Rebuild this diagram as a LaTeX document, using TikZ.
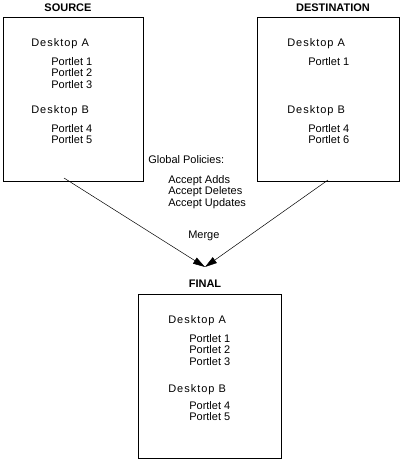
\documentclass[tikz,border=0pt]{standalone}
\usepackage{fontspec}
\setmainfont{Liberation Sans}
\newfontfamily\spacedfont[LetterSpace=9]{Liberation Sans}
\usetikzlibrary{arrows.meta}

\begin{document}
\begin{tikzpicture}
	[x=1pt, y=-1pt, line width=0.6pt,
	 box/.style = {draw, inner sep=0pt, outer sep=0pt, minimum height=164pt},
	 title/.style = {anchor=base, inner sep=0pt, font=\fontsize{11}{13}\selectfont\bfseries},
	 desk/.style = {anchor=base west, inner sep=0pt, font=\fontsize{11}{13}\selectfont\spacedfont},
	 txt/.style = {anchor=base west, inner sep=0pt, font=\fontsize{11}{13}\selectfont},
	 flow/.style = {-{Triangle[length=12pt, width=7pt]}, line width=0.5pt}]
	\useasboundingbox (0,0) rectangle (401,459);
	% source
	\node[title] (srct) at (68,11) {SOURCE};
	\node[box, minimum width=140pt] (src) at (73,99) {};
	\node[desk] (sda) at (31,46.5) {Desktop A};
	\foreach \p [count=\i] in {1,2,3}
		\node[txt] (sp\p) at (51,65+11.7*\i-11.7) {Portlet \p};
	\node[desk] (sdb) at (31,113) {Desktop B};
	\foreach \p [count=\i] in {4,5}
		\node[txt] (sp\p) at (51,132+11.7*\i-11.7) {Portlet \p};
	% destination
	\node[title] (dstt) at (333,11) {DESTINATION};
	\node[box, minimum width=142pt] (dst) at (328,99) {};
	\node[desk] (dda) at (287,46.5) {Desktop A};
	\node[txt] (dp1) at (308,65) {Portlet 1};
	\node[desk] (ddb) at (287,113) {Desktop B};
	\foreach \p [count=\i] in {4,6}
		\node[txt] (dp\p) at (308,132+11.7*\i-11.7) {Portlet \p};
	% policies
	\node[txt] (gp) at (148,163) {Global Policies:};
	\node[txt] (acc1) at (168,183) {Accept Adds};
	\node[txt] (acc2) at (168,194.7) {Accept Deletes};
	\node[txt] (acc3) at (168,206.4) {Accept Updates};
	\node[txt] (merge) at (188,238) {Merge};
	% final
	\node[title] (fint) at (205,287) {FINAL};
	\node[box, minimum width=143pt] (fin) at (209.5,376) {};
	\node[desk] (fda) at (168,323) {Desktop A};
	\foreach \p [count=\i] in {1,2,3}
		\node[txt] (fp\p) at (189,342+11.7*\i-11.7) {Portlet \p};
	\node[desk] (fdb) at (168,392) {Desktop B};
	\foreach \p [count=\i] in {4,5}
		\node[txt] (fp\p) at (189,409+11.7*\i-11.7) {Portlet \p};
	% merge arrows
	\coordinate (meet) at (205,267);
	\draw[flow] ([xshift=-9pt, yshift=3pt]src.south) -- (meet);
	\draw[flow] ([yshift=1pt]dst.south) -- (meet);
\end{tikzpicture}
\end{document}
